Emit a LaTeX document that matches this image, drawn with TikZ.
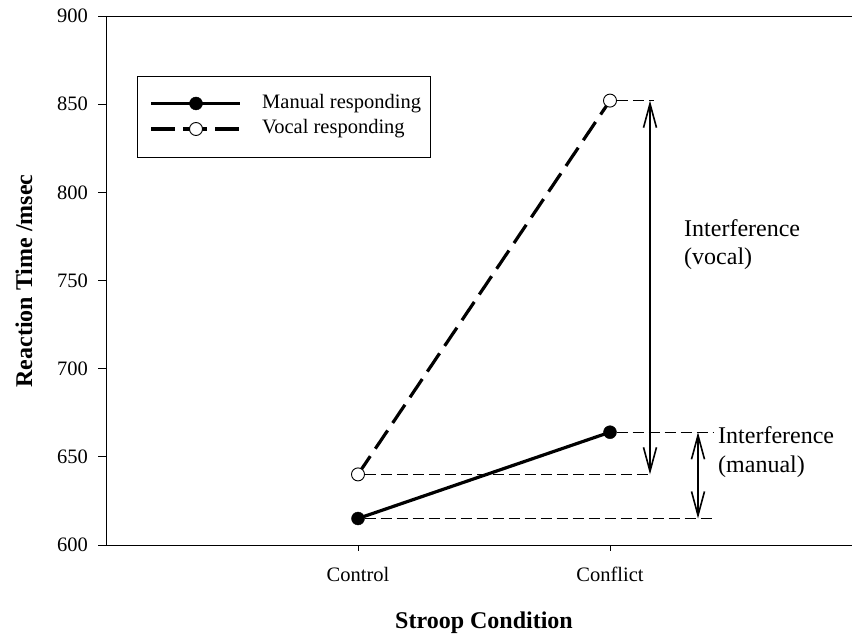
\documentclass[tikz,border=0pt]{standalone}
\usepackage{fontspec}
\setmainfont{Liberation Serif}
\usetikzlibrary{arrows.meta}
\pgfdeclarelayer{lines}
\pgfsetlayers{lines,main}
\begin{document}
\begin{tikzpicture}[x=1pt,y=-1pt,
  axis/.style={line width=0.9pt},
  ticklab/.style={inner sep=0pt,font=\fontsize{20.5}{24}\selectfont},
  axlab/.style={inner sep=0pt,font=\fontsize{24}{28}\selectfont\bfseries},
  notelab/.style={inner sep=0pt,anchor=base west,align=left,font=\fontsize{24}{28.5}\selectfont},
  solidser/.style={line width=3.2pt},
  dashser/.style={line width=3.2pt,dash pattern=on 22pt off 9pt},
  guide/.style={line width=1.3pt,dash pattern=on 11pt off 5pt},
  span/.style={line width=1.6pt,{Straight Barb[length=24pt,width=13pt,line width=1.6pt]}-{Straight Barb[length=24pt,width=13pt,line width=1.6pt]}},
  fullmark/.style={circle,fill=black,draw=black,inner sep=0pt,minimum size=13pt},
  openmark/.style={circle,fill=white,draw=black,line width=0.9pt,inner sep=0pt,minimum size=13pt}]
\useasboundingbox (0,0) rectangle (852,636);

% axes frame
\draw[axis] (106,16) -- (852,16);
\draw[axis] (106,16) -- (106,545) -- (852,545);

% y ticks and labels
\foreach \v/\yy in {900/16,850/104.2,800/192.3,750/280.5,700/368.7,650/456.8,600/545}{
  \draw[axis] (98,\yy) -- (106,\yy);
  \node[ticklab,anchor=east] (yl\v) at (88,\yy) {\v};
}
% x ticks and labels
\draw[axis] (358,545) -- (358,551);
\draw[axis] (610,545) -- (610,551);
\node[ticklab,anchor=base] (xlctrl) at (358,581.5) {Control};
\node[ticklab,anchor=base] (xlconf) at (610,581.5) {Conflict};

% axis titles
\node[axlab,anchor=base] (xtitle) at (484,628) {Stroop Condition};
\node[axlab,rotate=90] (ytitle) at (24,281) {Reaction Time /msec};

% data points
\node[fullmark] (mctrl) at (358,518.5) {};
\node[fullmark] (mconf) at (610,432.2) {};
\node[openmark] (vctrl) at (358,474.4) {};
\node[openmark] (vconf) at (610,100.6) {};

% guide lines to the interference arrows
\coordinate (gvtop) at (654,100.6);
\coordinate (gmtop) at (713,432.2);
\coordinate (gvbot) at (652,474.4);
\coordinate (gmbot) at (714,518.5);
\draw[guide] (vconf.east) -- (gvtop);
\draw[guide] (mconf.east) -- (gmtop);
\draw[guide] (vctrl.east) -- (gvbot);
\draw[guide] (mctrl.east) -- (gmbot);

% series, kept beneath the markers
\begin{pgfonlayer}{lines}
\draw[solidser] (mctrl.center) -- (mconf.center);
\draw[dashser] (vctrl.center) -- (vconf.center);
\end{pgfonlayer}

% interference spans
\coordinate (avt) at (650,100.6);
\coordinate (avb) at (650,474.4);
\coordinate (amt) at (698,432.2);
\coordinate (amb) at (698,518.5);
\draw[span] (avt) -- (avb);
\draw[span] (amt) -- (amb);
\node[notelab] (labv) at (684,265) {Interference\\(vocal)};
\node[notelab] (labm) at (718,472) {Interference\\(manual)};

% legend
\node[draw=black,line width=0.9pt,minimum width=293pt,minimum height=81pt,inner sep=0pt] (legend) at (283.5,116.5) {};
\coordinate (l1a) at (151,103.5);
\coordinate (l1b) at (240,103.5);
\coordinate (l2a) at (151,129);
\coordinate (l2b) at (240,129);
\node[fullmark] (lm1) at (196,103.5) {};
\node[openmark] (lm2) at (196,129) {};
\begin{pgfonlayer}{lines}
\draw[solidser] (l1a) -- (l1b);
\draw[dashser,dash pattern=on 24pt off 8pt] (l2a) -- (l2b);
\end{pgfonlayer}
\node[ticklab,anchor=west] (lt1) at (262,103.5) {Manual responding};
\node[ticklab,anchor=west] (lt2) at (262,129) {Vocal responding};
\end{tikzpicture}
\end{document}
